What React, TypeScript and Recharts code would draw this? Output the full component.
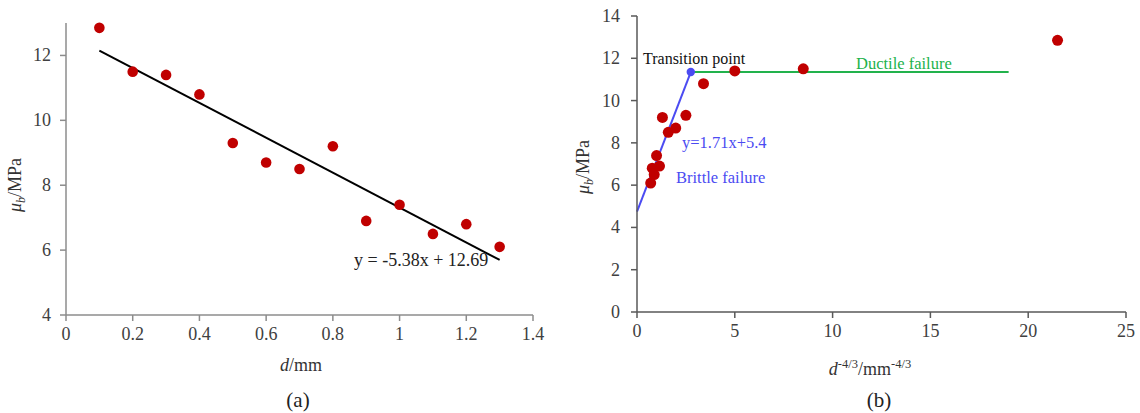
import React from 'react';
import { ScatterChart, Scatter, XAxis, YAxis, ReferenceLine } from 'recharts';

// grain size d (mm) and bond strength (MPa)
const dValues = [0.1, 0.2, 0.3, 0.4, 0.5, 0.6, 0.7, 0.8, 0.9, 1.0, 1.1, 1.2, 1.3];
const strength = [12.85, 11.5, 11.4, 10.8, 9.3, 8.7, 8.5, 9.2, 6.9, 7.4, 6.5, 6.8, 6.1];
// d^-4/3 values for the right panel
const dPow = [21.5, 8.5, 5.0, 3.4, 2.5, 1.98, 1.6, 1.3, 1.15, 1.0, 0.88, 0.78, 0.7];

const fitSlope = -5.38;
const fitIntercept = 12.69;
const fitRange = [0.1, 1.3];

const leftXTicks = [0, 0.2, 0.4, 0.6, 0.8, 1, 1.2, 1.4];
const leftYTicks = [4, 6, 8, 10, 12];
const rightXTicks = [0, 5, 10, 15, 20, 25];
const rightYTicks = [0, 2, 4, 6, 8, 10, 12, 14];

const brittleStart = { x: 0, y: 4.75 };
const transitionPoint = { x: 2.75, y: 11.35 };
const ductileEndX = 19;

const SERIF = "'Liberation Serif', 'DejaVu Serif', serif";
const RED = '#c00000';
const BLUE = '#4b4bf2';
const GREEN = '#22b24c';

const leftData = dValues.map((x, i) => ({ x, y: strength[i] }));
const rightData = dPow.map((x, i) => ({ x, y: strength[i] }));

const Dot = (r: number, fill: string) => (props: any) => (
  <circle cx={props.cx} cy={props.cy} r={r} fill={fill} />
);

// serif tick labels; x ticks sit below the axis, y ticks to the left
const XTick = (props: any) => (
  <text x={props.x} y={props.y + 12} textAnchor="middle" style={{ fontFamily: SERIF, fontSize: 18 }} fill="#404040">
    {props.payload.value}
  </text>
);
const YTick = (props: any) => (
  <text x={props.x} y={props.y + 6} textAnchor="end" style={{ fontFamily: SERIF, fontSize: 18 }} fill="#404040">
    {props.payload.value}
  </text>
);

function LeftChart() {
  const axis = '#8c8c8c';
  return (
    <ScatterChart width={560} height={413} margin={{ top: 23, right: 27, bottom: 68, left: 26 }}>
      <XAxis
        type="number"
        dataKey="x"
        domain={[0, 1.4]}
        ticks={leftXTicks}
        tick={XTick}
        tickSize={6}
        tickMargin={7}
        height={30}
        stroke={axis}
        strokeWidth={1.5}
      />
      <YAxis
        type="number"
        dataKey="y"
        domain={[4, 13]}
        ticks={leftYTicks}
        tick={YTick}
        tickSize={6}
        tickMargin={9}
        width={40}
        stroke={axis}
        strokeWidth={1.5}
      />
      <ReferenceLine
        segment={[
          { x: fitRange[0], y: fitSlope * fitRange[0] + fitIntercept },
          { x: fitRange[1], y: fitSlope * fitRange[1] + fitIntercept },
        ]}
        stroke="#000"
        strokeWidth={2}
      />
      <Scatter data={leftData} shape={Dot(5.3, RED)} isAnimationActive={false} />
    </ScatterChart>
  );
}

function RightChart() {
  const axis = '#595959';
  return (
    <ScatterChart width={570} height={413} margin={{ top: 16, right: 14, bottom: 71, left: 27 }}>
      <XAxis
        type="number"
        dataKey="x"
        domain={[0, 25]}
        ticks={rightXTicks}
        tick={XTick}
        tickSize={6}
        tickMargin={7}
        height={30}
        stroke={axis}
        strokeWidth={1.5}
      />
      <YAxis
        type="number"
        dataKey="y"
        domain={[0, 14]}
        ticks={rightYTicks}
        tick={YTick}
        tickSize={6}
        tickMargin={11}
        width={40}
        stroke={axis}
        strokeWidth={1.5}
      />
      <ReferenceLine
        segment={[transitionPoint, { x: ductileEndX, y: transitionPoint.y }]}
        stroke={GREEN}
        strokeWidth={2}
      />
      <ReferenceLine segment={[brittleStart, transitionPoint]} stroke={BLUE} strokeWidth={2} />
      <Scatter data={rightData} shape={Dot(5.5, RED)} isAnimationActive={false} />
      <Scatter data={[transitionPoint]} shape={Dot(4.2, BLUE)} isAnimationActive={false} />
    </ScatterChart>
  );
}

export default function App() {
  return (
    <div
      style={{
        position: 'absolute',
        left: 0,
        top: 0,
        width: 1140,
        height: 413,
        background: '#fff',
        fontFamily: SERIF,
      }}
    >
      <div style={{ position: 'absolute', left: 0, top: 0 }}>
        <LeftChart />
      </div>
      <div style={{ position: 'absolute', left: 570, top: 0 }}>
        <RightChart />
      </div>
      <svg
        width={1140}
        height={413}
        style={{ position: 'absolute', left: 0, top: 0, pointerEvents: 'none', fontFamily: SERIF }}
      >
        {/* left panel */}
        <text x={354} y={266} fontSize={18} fill="#222">y = -5.38x + 12.69</text>
        <text transform="rotate(-90, 21, 185)" x={21} y={185} fontSize={18} fill="#333" textAnchor="middle">
          <tspan fontStyle="italic">μ</tspan>
          <tspan fontStyle="italic" fontSize={12} dy={4}>b</tspan>
          <tspan dy={-4}>/MPa</tspan>
        </text>
        <text x={301} y={371} fontSize={18} fill="#333" textAnchor="middle">
          <tspan fontStyle="italic">d</tspan>/mm
        </text>
        <text x={298} y={407} fontSize={21} fill="#222" textAnchor="middle">(a)</text>

        {/* right panel */}
        <text x={643} y={64} fontSize={16} fill="#111">Transition point</text>
        <text x={856} y={69} fontSize={16.5} fill={GREEN}>Ductile failure</text>
        <text x={682} y={148} fontSize={16.5} fill={BLUE}>y=1.71x+5.4</text>
        <text x={676} y={183} fontSize={16.5} fill={BLUE}>Brittle failure</text>
        <text transform="rotate(-90, 589, 167)" x={589} y={167} fontSize={18} fill="#333" textAnchor="middle">
          <tspan fontStyle="italic">μ</tspan>
          <tspan fontStyle="italic" fontSize={12} dy={4}>b</tspan>
          <tspan dy={-4}>/MPa</tspan>
        </text>
        <text x={870} y={375} fontSize={18} fill="#333" textAnchor="middle">
          <tspan fontStyle="italic">d</tspan>
          <tspan fontSize={12.5} dy={-7}>-4/3</tspan>
          <tspan dy={7}>/mm</tspan>
          <tspan fontSize={12.5} dy={-7}>-4/3</tspan>
        </text>
        <text x={879} y={407} fontSize={21} fill="#222" textAnchor="middle">(b)</text>
      </svg>
    </div>
  );
}
